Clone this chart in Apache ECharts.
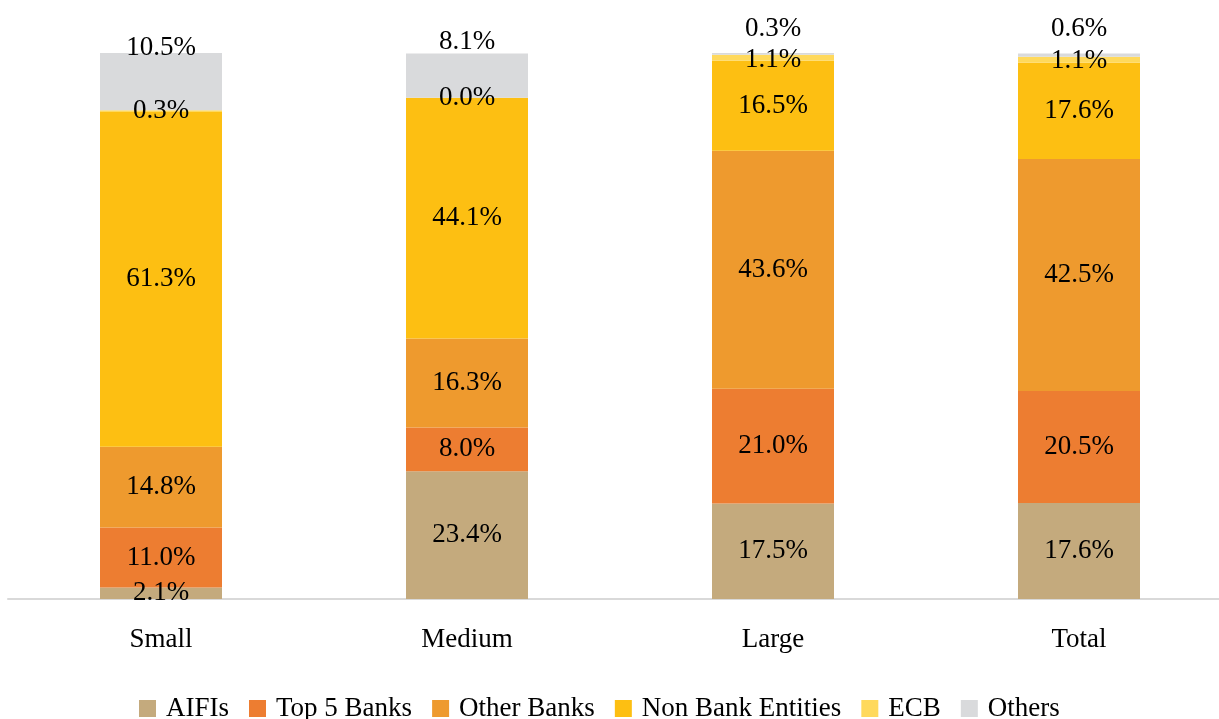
<!DOCTYPE html>
<html>
<head>
<meta charset="utf-8">
<script src="https://cdn.jsdelivr.net/npm/echarts@6/dist/echarts.min.js"></script>
<style>
  html, body { margin: 0; padding: 0; background: #fff; }
  #chart { width: 1219px; height: 719px; }
</style>
</head>
<body>
<div id="chart"></div>
<script>
// Funding composition by firm size (% of total)
const categories = ['Small', 'Medium', 'Large', 'Total'];
const seriesNames = ['AIFIs', 'Top 5 Banks', 'Other Banks', 'Non Bank Entities', 'ECB', 'Others'];
const aifis = [2.1, 23.4, 17.5, 17.6];
const top5Banks = [11.0, 8.0, 21.0, 20.5];
const otherBanks = [14.8, 16.3, 43.6, 42.5];
const nonBankEntities = [61.3, 44.1, 16.5, 17.6];
const ecb = [0.3, 0.0, 1.1, 1.1];
const others = [10.5, 8.1, 0.3, 0.6];

const colors = ['#C4AA7D', '#ED7D31', '#EE9A2E', '#FDBF12', '#FFD95C', '#D9DADC'];
const values = [aifis, top5Banks, otherBanks, nonBankEntities, ecb, others];

// Vertical nudges for the top-segment labels so they sit above the bars
const othersLabelShift = [8, 2, -11, -11];
const ecbLabelShift = [0, 0, 2, 1];

const labelFont = { fontFamily: 'Liberation Serif', fontSize: 27, color: '#000' };

const series = seriesNames.map((name, i) => ({
  name,
  type: 'bar',
  stack: 'total',
  barWidth: 122,
  itemStyle: { color: colors[i] },
  label: Object.assign({
    show: true,
    position: 'inside',
    formatter: (p) => p.value.toFixed(1) + '%'
  }, labelFont),
  emphasis: { disabled: true },
  data: values[i].map((v, j) => {
    if (name === 'Others') {
      return { value: v, label: { position: 'top', distance: 0, offset: [0, othersLabelShift[j]] } };
    }
    if (name === 'ECB') {
      return { value: v, label: { offset: [0, ecbLabelShift[j]] } };
    }
    return v;
  })
}));

const chart = echarts.init(document.getElementById('chart'));
chart.setOption({
  animation: false,
  backgroundColor: '#fff',
  color: colors,
  grid: { left: 8, width: 1224, top: 53, bottom: 120, containLabel: false, outerBoundsMode: 'none' },
  legend: {
    data: seriesNames,
    top: 690,
    left: 134,
    icon: 'rect',
    itemWidth: 17,
    itemHeight: 17,
    itemGap: 20,
    textStyle: { fontFamily: 'Liberation Serif', fontSize: 27, color: '#000', padding: [0, 0, 0, 5] }
  },
  xAxis: {
    type: 'category',
    data: categories,
    axisLine: { lineStyle: { color: '#D9D9D9', width: 2 } },
    axisTick: { show: false },
    axisLabel: { fontFamily: 'Liberation Serif', fontSize: 27, color: '#000', margin: 27 }
  },
  yAxis: {
    type: 'value',
    min: 0,
    max: 100,
    show: false,
    splitLine: { show: false }
  },
  series
});
</script>
</body>
</html>
